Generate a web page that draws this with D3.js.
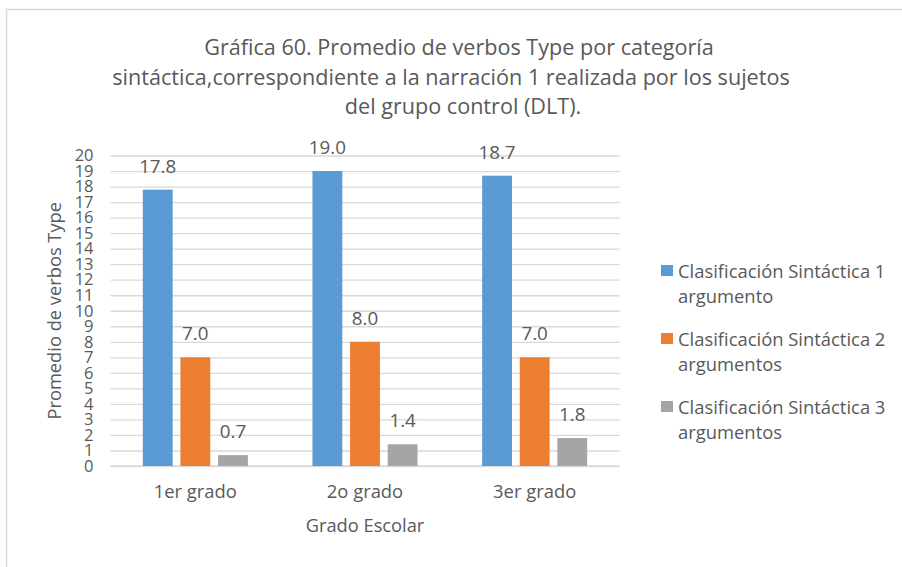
<!DOCTYPE html>
<html>
<head>
<meta charset="utf-8">
<script src="https://cdn.jsdelivr.net/npm/d3@7"></script>
<style>
  html, body { margin: 0; padding: 0; background: #fff; }
  svg { display: block; }
  text { font-family: "Open Sans", "Noto Sans", sans-serif; fill: #595959; }
</style>
</head>
<body>
<svg id="chart" width="902" height="567"></svg>
<script>
// Categories (school grade) and the three syntactic-classification series
const categories = ["1er grado", "2o grado", "3er grado"];
const seriesNames = [
  "Clasificación Sintáctica 1 argumento",
  "Clasificación Sintáctica 2 argumentos",
  "Clasificación Sintáctica 3 argumentos"
];
const legendLines = [
  ["Clasificación Sintáctica 1", "argumento"],
  ["Clasificación Sintáctica 2", "argumentos"],
  ["Clasificación Sintáctica 3", "argumentos"]
];
const series1 = [17.8, 19.0, 18.7];
const series2 = [7.0, 8.0, 7.0];
const series3 = [0.7, 1.4, 1.8];
const yTicks = d3.range(0, 21, 1);
const titleLines = [
  "Gráfica 60. Promedio de verbos Type por categoría",
  "sintáctica,correspondiente a la narración 1 realizada por los sujetos",
  "del grupo control (DLT)."
];
const yAxisTitle = "Promedio de verbos Type";
const xAxisTitle = "Grado Escolar";

const colors = ["#5B9BD5", "#ED7D31", "#A5A5A5"];
const allSeries = [series1, series2, series3];

const svg = d3.select("#chart");

// Outer chart frame
svg.append("rect")
  .attr("x", 6.5).attr("y", 9.5)
  .attr("width", 920).attr("height", 600)
  .attr("fill", "none")
  .attr("stroke", "#D9D9D9")
  .attr("stroke-width", 1.5);

// Plot area
const plot = { left: 110.5, right: 619.5, top: 155.5, bottom: 466 };

const y = d3.scaleLinear().domain([0, 20]).range([plot.bottom, plot.top]);
const x0 = d3.scaleBand().domain(categories).range([plot.left, plot.right]).padding(0);
const x1 = d3.scaleBand().domain(d3.range(allSeries.length))
  .range([32.3, x0.bandwidth() - 32.3]).paddingInner(0.207);

// Horizontal gridlines + tick labels
const yAxis = svg.append("g")
  .attr("transform", `translate(${plot.left},0)`)
  .call(d3.axisLeft(y).tickValues(yTicks).tickSize(-(plot.right - plot.left)).tickPadding(17).tickFormat(d3.format("d")));
yAxis.select(".domain").remove();
yAxis.selectAll(".tick line").attr("stroke", "#D9D9D9").attr("stroke-width", 1.3);
yAxis.selectAll(".tick text")
  .attr("fill", "#595959")
  .style("font-size", "16.5px")
  .style("font-family", '"Open Sans", sans-serif');

// Baseline
svg.append("line")
  .attr("x1", plot.left).attr("x2", plot.right)
  .attr("y1", y(0)).attr("y2", y(0))
  .attr("stroke", "#D9D9D9").attr("stroke-width", 1.5);

// Bars
const groups = svg.append("g").selectAll("g")
  .data(categories)
  .join("g")
  .attr("transform", d => `translate(${x0(d)},0)`);

groups.selectAll("rect")
  .data((c, ci) => allSeries.map((s, si) => ({ si, v: s[ci] })))
  .join("rect")
  .attr("x", d => x1(d.si))
  .attr("width", x1.bandwidth())
  .attr("y", d => y(d.v))
  .attr("height", d => y(0) - y(d.v))
  .attr("fill", d => colors[d.si]);

// Value labels
groups.selectAll("text.val")
  .data((c, ci) => allSeries.map((s, si) => ({ si, v: s[ci] })))
  .join("text")
  .attr("class", "val")
  .attr("x", d => x1(d.si) + x1.bandwidth() / 2)
  .attr("y", d => y(d.v) - 17)
  .attr("text-anchor", "middle")
  .style("font-size", "18.8px")
  .text(d => d.v.toFixed(1));

// Category labels
svg.append("g").selectAll("text")
  .data(categories)
  .join("text")
  .attr("x", d => x0(d) + x0.bandwidth() / 2)
  .attr("y", 498)
  .attr("text-anchor", "middle")
  .style("font-size", "18.4px")
  .text(d => d);

// Axis titles
svg.append("text")
  .attr("x", x0.range()[0] + (plot.right - plot.left) / 2)
  .attr("y", 532)
  .attr("text-anchor", "middle")
  .style("font-size", "18.3px")
  .text(xAxisTitle);

svg.append("text")
  .attr("transform", `translate(61,${(plot.top + plot.bottom) / 2}) rotate(-90)`)
  .attr("text-anchor", "middle")
  .style("font-size", "18.3px")
  .text(yAxisTitle);

// Title
const titleX = [459, 451, 463];
const titleY = [55, 85, 114];
svg.append("g").selectAll("text")
  .data(titleLines)
  .join("text")
  .attr("x", (d, i) => titleX[i])
  .attr("y", (d, i) => titleY[i])
  .attr("text-anchor", "middle")
  .style("font-size", "21.6px")
  .text(d => d);

// Legend
const legend = svg.append("g").selectAll("g")
  .data(seriesNames)
  .join("g")
  .attr("transform", (d, i) => `translate(661,${265 + i * 68})`);
legend.append("rect")
  .attr("width", 12).attr("height", 11)
  .attr("fill", (d, i) => colors[i]);
legend.each(function (d, i) {
  const t = d3.select(this).append("text")
    .attr("x", 17)
    .attr("y", 12.5)
    .style("font-size", "18.4px");
  legendLines[i].forEach((line, k) => {
    t.append("tspan").attr("x", 17).attr("dy", k === 0 ? 0 : 25.5).text(line);
  });
});
</script>
</body>
</html>
